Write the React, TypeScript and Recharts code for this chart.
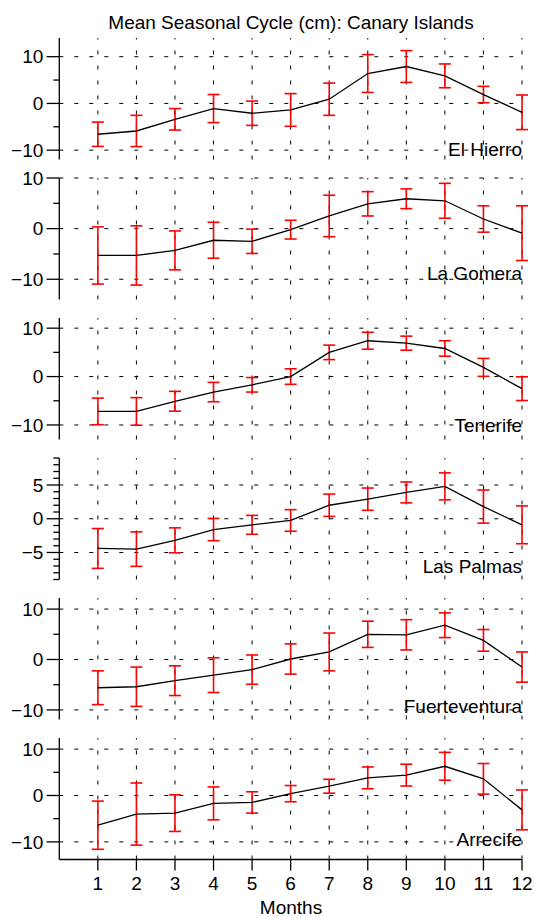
import { ErrorBar, Line, LineChart, ReferenceLine, XAxis, YAxis } from "recharts";

const months = [1, 2, 3, 4, 5, 6, 7, 8, 9, 10, 11, 12];

const elHierro = [-6.6, -5.9, -3.4, -1.1, -2.1, -1.4, 0.9, 6.4, 7.9, 5.9, 1.9, -1.9];
const elHierroErr = [2.6, 3.35, 2.3, 3.0, 2.6, 3.5, 3.45, 4.05, 3.4, 2.55, 1.75, 3.7];

const laGomera = [-5.3, -5.3, -4.3, -2.3, -2.5, -0.2, 2.5, 4.9, 5.9, 5.5, 1.9, -0.9];
const laGomeraErr = [5.65, 5.85, 3.85, 3.55, 2.4, 1.85, 4.1, 2.4, 1.95, 3.45, 2.6, 5.4];

const tenerife = [-7.2, -7.2, -5.1, -3.2, -1.7, 0, 5.0, 7.4, 6.9, 5.8, 1.9, -2.5];
const tenerifeErr = [2.75, 2.85, 2.05, 2.0, 1.5, 1.6, 1.5, 1.75, 1.45, 1.6, 1.85, 2.45];

const lasPalmas = [-4.4, -4.5, -3.2, -1.6, -0.9, -0.25, 2.0, 2.9, 3.9, 4.8, 1.8, -0.9];
const lasPalmasErr = [2.95, 2.55, 1.85, 1.65, 1.4, 1.6, 1.65, 1.65, 1.55, 2.0, 2.45, 2.8];

const fuerteventura = [-5.6, -5.4, -4.2, -3.1, -2.0, 0.1, 1.5, 5.0, 4.9, 6.8, 3.8, -1.5];
const fuerteventuraErr = [3.35, 3.9, 2.95, 3.45, 2.9, 3.0, 3.75, 2.6, 3.0, 2.45, 2.15, 3.0];

const arrecife = [-6.4, -4.0, -3.8, -1.7, -1.5, 0.4, 2.0, 3.8, 4.4, 6.3, 3.6, -3.1];
const arrecifeErr = [5.2, 6.7, 3.95, 3.55, 2.3, 1.75, 1.5, 2.35, 2.35, 3.0, 3.3, 4.3];

const ticks10 = [-10, 0, 10];
const minor10 = [-5, 5];
const ticks5 = [-5, 0, 5];
const minor1 = [-9, -8, -7, -6, -4, -3, -2, -1, 1, 2, 3, 4, 6, 7, 8, 9];

const FONT = "'Liberation Sans', Arial, Helvetica, sans-serif";
const W = 534;
const AXIS_X = 59.3;
const PLOT_RIGHT = 522;
const PLOT_H = 121.5;
const PAD = 10;
const DASH = "4 11";

const panels = [
  { name: "El Hierro", values: elHierro, errors: elHierroErr, domain: [-12, 14], majors: ticks10, minors: minor10, labelY: 156 },
  { name: "La Gomera", values: laGomera, errors: laGomeraErr, domain: [-14, 10], majors: ticks10, minors: minor10, labelY: 280 },
  { name: "Tenerife", values: tenerife, errors: tenerifeErr, domain: [-13, 12.1], majors: ticks10, minors: minor10, labelY: 431.5 },
  { name: "Las Palmas", values: lasPalmas, errors: lasPalmasErr, domain: [-9, 9], majors: ticks5, minors: minor1, labelY: 572.5 },
  { name: "Fuerteventura", values: fuerteventura, errors: fuerteventuraErr, domain: [-11.9, 12.2], majors: ticks10, minors: minor10, labelY: 712.5 },
  { name: "Arrecife", values: arrecife, errors: arrecifeErr, domain: [-13.8, 12.4], majors: ticks10, minors: minor10, labelY: 846 },
];

const fmt = (v: number) => (v < 0 ? `\u2212${Math.abs(v)}` : `${v}`);

function YTick(props: any) {
  const { x, y, payload, majors } = props;
  const major = majors.includes(payload.value);
  const len = major ? 12.7 : 6;
  return (
    <g>
      <line x1={x - len} x2={x} y1={y} y2={y} stroke="#000" strokeWidth={1.3} />
      {major && (
        <text x={x - 16} y={y} dy="0.355em" textAnchor="end" fontSize={19} fill="#000" fontFamily={FONT}>
          {fmt(payload.value)}
        </text>
      )}
    </g>
  );
}

function Panel({ panel, index }: { panel: (typeof panels)[number]; index: number }) {
  const last = index === panels.length - 1;
  const data = months.map((m, i) => ({ month: m, v: panel.values[i], err: panel.errors[i] }));
  const allTicks = [...panel.majors, ...panel.minors].sort((a, b) => a - b);
  const xh = last ? 40 : 0;
  return (
    <div style={{ position: "absolute", left: 0, top: 38 + 140 * index - PAD }}>
      <LineChart
        width={W}
        height={PAD + PLOT_H + (last ? xh : PAD)}
        data={data}
        margin={{ top: PAD, right: W - PLOT_RIGHT, bottom: last ? 0 : PAD, left: 0 }}
      >
        <XAxis
          dataKey="month"
          type="number"
          domain={[0, 12]}
          ticks={months}
          interval={0}
          hide={!last}
          height={xh}
          tickSize={11}
          tickMargin={6}
          axisLine={{ stroke: "#000", strokeWidth: 1.3 }}
          tickLine={{ stroke: "#000", strokeWidth: 1.3 }}
          tick={{ fontSize: 19, fill: "#000", fontFamily: FONT }}
        />
        <YAxis
          type="number"
          domain={panel.domain}
          ticks={allTicks}
          interval={0}
          width={AXIS_X}
          tickSize={0}
          tickMargin={0}
          tickLine={false}
          axisLine={{ stroke: "#000", strokeWidth: 1.3 }}
          tick={<YTick majors={panel.majors} />}
        />
        {panel.majors.map((t) => (
          <ReferenceLine key={`h${t}`} y={t} stroke="#000" strokeWidth={1} strokeDasharray={DASH} />
        ))}
        {months.map((m) => (
          <ReferenceLine key={`v${m}`} x={m} stroke="#000" strokeWidth={1} strokeDasharray={DASH} />
        ))}
        <Line
          type="linear"
          dataKey="v"
          stroke="#000"
          strokeWidth={1.3}
          dot={false}
          isAnimationActive={false}
        >
          <ErrorBar dataKey="err" width={6} stroke="#ff0000" strokeWidth={1.6} direction="y" isAnimationActive={false} />
        </Line>
      </LineChart>
    </div>
  );
}

export default function App() {
  return (
    <div style={{ position: "absolute", left: 0, top: 0, width: W, height: 918, background: "#fff", overflow: "hidden" }}>
      {panels.map((p, i) => (
        <Panel key={p.name} panel={p} index={i} />
      ))}
      <svg width={W} height={918} style={{ position: "absolute", left: 0, top: 0, pointerEvents: "none" }}>
        <text x={291} y={29.3} textAnchor="middle" fontSize={19} fontFamily={FONT} fill="#000">
          Mean Seasonal Cycle (cm): Canary Islands
        </text>
        {panels.map((p) => (
          <text key={p.name} x={PLOT_RIGHT} y={p.labelY} textAnchor="end" fontSize={19} fontFamily={FONT} fill="#000">
            {p.name}
          </text>
        ))}
        <text x={291} y={914} textAnchor="middle" fontSize={19} fontFamily={FONT} fill="#000">
          Months
        </text>
      </svg>
    </div>
  );
}
